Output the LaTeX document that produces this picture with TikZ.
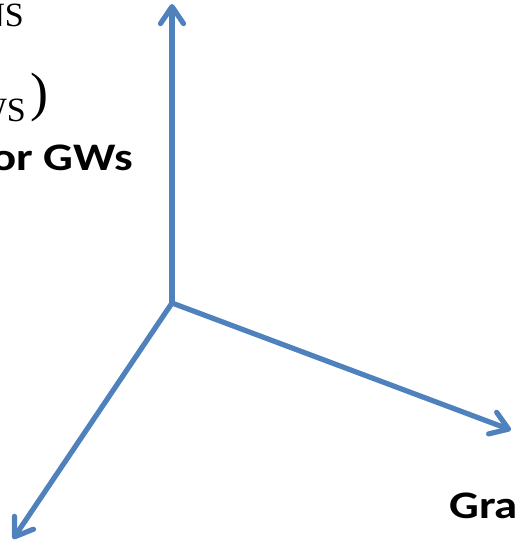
\documentclass[tikz,border=0pt]{standalone}
\usepackage{fontspec}
\usepackage{tikz}
\usepackage{xcolor}
\usetikzlibrary{positioning}
\usetikzlibrary{arrows.meta}
\newfontfamily\sansbold[FakeStretch=1.2]{Carlito}
\newfontfamily\serifrm{Liberation Serif}
\definecolor{axiscolor}{RGB}{79, 129, 189}
\tikzstyle{axis} = [
	line width=5.2pt,
	draw=axiscolor,
	line cap=round,
	line join=round,
	-{Straight Barb[length=17pt, width=23pt, line cap=round, line join=round]}
]
\tikzstyle{boldlabel} = [
	inner sep=0pt,
	font=\sansbold\bfseries\fontsize{39}{41}\selectfont
]
\tikzstyle{seriflabel} = [
	inner sep=0pt,
	font=\serifrm\fontsize{34}{36}\selectfont
]

\begin{document}
\begin{tikzpicture}[x=1pt, y=-1pt]

	\useasboundingbox (0,0) rectangle (518,546);
	\clip (0,0) rectangle (518,546);

	%
	% Axes
	\coordinate (O) at (172,303);
	\coordinate (Ytip) at (172,4);
	\coordinate (Xtip) at (511,430);
	\coordinate (Ztip) at (13,539);

	\draw[axis] (O) -- (Ytip);
	\draw[axis] (O) -- (Xtip);
	\draw[axis] (O) -- (Ztip);

	%
	% Labels
	\node[seriflabel, anchor=base east] at (24,27) (topNS) {NS};
	\node[seriflabel, anchor=base east] at (26,121) (midWS) {WS};
	\node[seriflabel, font=\serifrm\fontsize{54}{56}\selectfont, anchor=base west] at (30,110) (paren) {)};
	\node[boldlabel, anchor=base east] at (133,170) (gwLabel) {or GWs};
	\node[boldlabel, anchor=base west] at (449,518) (graLabel) {Gra};

\end{tikzpicture}
\end{document}
